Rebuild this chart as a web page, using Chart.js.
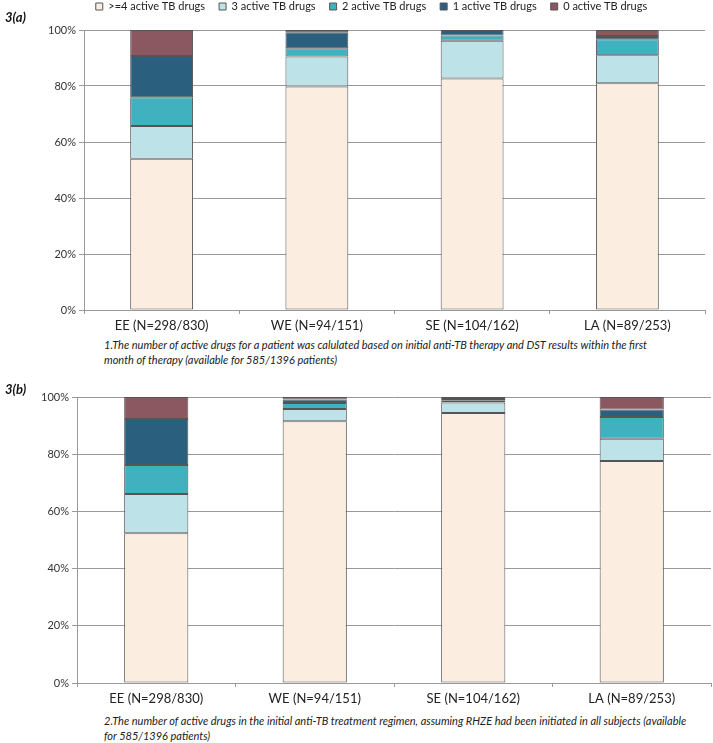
<!DOCTYPE html>
<html>
<head>
<meta charset="utf-8">
<script src="https://cdn.jsdelivr.net/npm/chart.js@4"></script>
<style>
  body { margin: 0; background: #fff; width: 713px; height: 743px; position: relative; overflow: hidden; font-family: Lato, "Open Sans", sans-serif; }
  .box { position: absolute; left: 0; width: 713px; }
  .tag { position: absolute; left: 5px; font-weight: bold; font-style: italic; font-size: 13px; color: #111; }
  .note { position: absolute; left: 104px; font-style: italic; font-size: 11px; line-height: 15px; color: #222; white-space: nowrap; }
</style>
</head>
<body>
<div class="box" style="top:-13px; height:348px"><canvas id="chartA"></canvas></div>
<div class="tag" style="top:9px">3(a)</div>
<div class="note" style="top:337px">1.The number of active drugs for a patient was calulated based on initial anti-TB therapy and DST results within the first<br>month of therapy (available for 585/1396 patients)</div>

<div class="box" style="top:372px; height:336px"><canvas id="chartB"></canvas></div>
<div class="tag" style="top:381px">3(b)</div>
<div class="note" style="top:713px">2.The number of active drugs in the initial anti-TB treatment regimen, assuming RHZE had been initiated in all subjects (available<br>for 585/1396 patients)</div>

<script>
const regions = ['EE (N=298/830)', 'WE (N=94/151)', 'SE (N=104/162)', 'LA (N=89/253)'];
const seriesNames = ['>=4 active TB drugs', '3 active TB drugs', '2 active TB drugs', '1 active TB drugs', '0 active TB drugs'];
const colors = ['#FCEDE1', '#BDE3E8', '#40B2BF', '#2B5F7E', '#8B5760'];

// 3(a) percentages per region, from >=4 drugs down to 0 drugs
const a4 = [54.0, 79.8, 82.7, 81.0];
const a3 = [11.7, 10.7, 13.5, 10.0];
const a2 = [10.3, 3.0, 1.8, 5.7];
const a1 = [14.7, 5.7, 2.0, 1.2];
const a0 = [9.3, 0.8, 0.0, 2.1];

// 3(b)
const b4 = [52.4, 91.5, 94.4, 77.6];
const b3 = [13.7, 4.3, 3.7, 7.8];
const b2 = [10.1, 2.1, 0.6, 7.6];
const b1 = [16.1, 1.2, 0.6, 2.6];
const b0 = [7.7, 0.9, 0.7, 4.4];

const yTicks = [0, 20, 40, 60, 80, 100];

// nudges the legend: a bit taller, and shifted right to sit over the plot
const legendNudge = {
  id: 'legendNudge',
  afterInit(chart) {
    const lg = chart.legend;
    if (!lg || !chart.options.plugins.legend.display) return;
    const fit = lg.fit.bind(lg);
    lg.fit = function () { fit(); this.height += 8; };
  },
  afterLayout(chart) {
    const lg = chart.legend;
    if (!lg || !chart.options.plugins.legend.display) return;
    lg.left += 19; lg.right += 19;
  }
};

function makeSets(rows) {
  return rows.map((d, i) => ({
    label: seriesNames[i],
    data: d,
    backgroundColor: colors[i],
    borderColor: '#555555',
    borderWidth: 1,
    borderSkipped: false,
    categoryPercentage: 1,
    barPercentage: 0.405
  }));
}

function makeConfig(rows, showLegend, yWidth, padRight, padTop) {
  return {
    type: 'bar',
    data: { labels: regions, datasets: makeSets(rows) },
    options: {
      responsive: true,
      maintainAspectRatio: false,
      animation: false,
      layout: { padding: { left: 0, right: padRight, top: padTop, bottom: 0 } },
      plugins: {
        legend: {
          display: showLegend,
          position: 'top',
          labels: {
            boxWidth: 7, boxHeight: 7, padding: 14,
            color: '#222',
            font: { family: 'Lato', size: 11 }
          }
        },
        tooltip: { enabled: false }
      },
      scales: {
        x: {
          stacked: true,
          offset: true,
          grid: { offset: true, drawOnChartArea: false, drawTicks: true, tickLength: 4, color: '#999' },
          border: { color: '#999' },
          ticks: { color: '#222', font: { family: 'Lato', size: 13 }, padding: 4 },
          afterFit: s => { s.height = 25; }
        },
        y: {
          stacked: true,
          min: 0, max: 100,
          afterBuildTicks: s => { s.ticks = yTicks.map(v => ({ value: v })); },
          grid: { color: '#999', tickLength: 5 },
          border: { color: '#999' },
          ticks: { color: '#333', font: { family: 'Lato', size: 11 }, padding: 3, callback: v => v + '%' },
          afterFit: s => { s.width = yWidth; }
        }
      }
    },
    plugins: [legendNudge]
  };
}

new Chart(document.getElementById('chartA'), makeConfig([a4, a3, a2, a1, a0], true, 84, 8, 0));
new Chart(document.getElementById('chartB'), makeConfig([b4, b3, b2, b1, b0], false, 77, 2, 25));
</script>
</body>
</html>
